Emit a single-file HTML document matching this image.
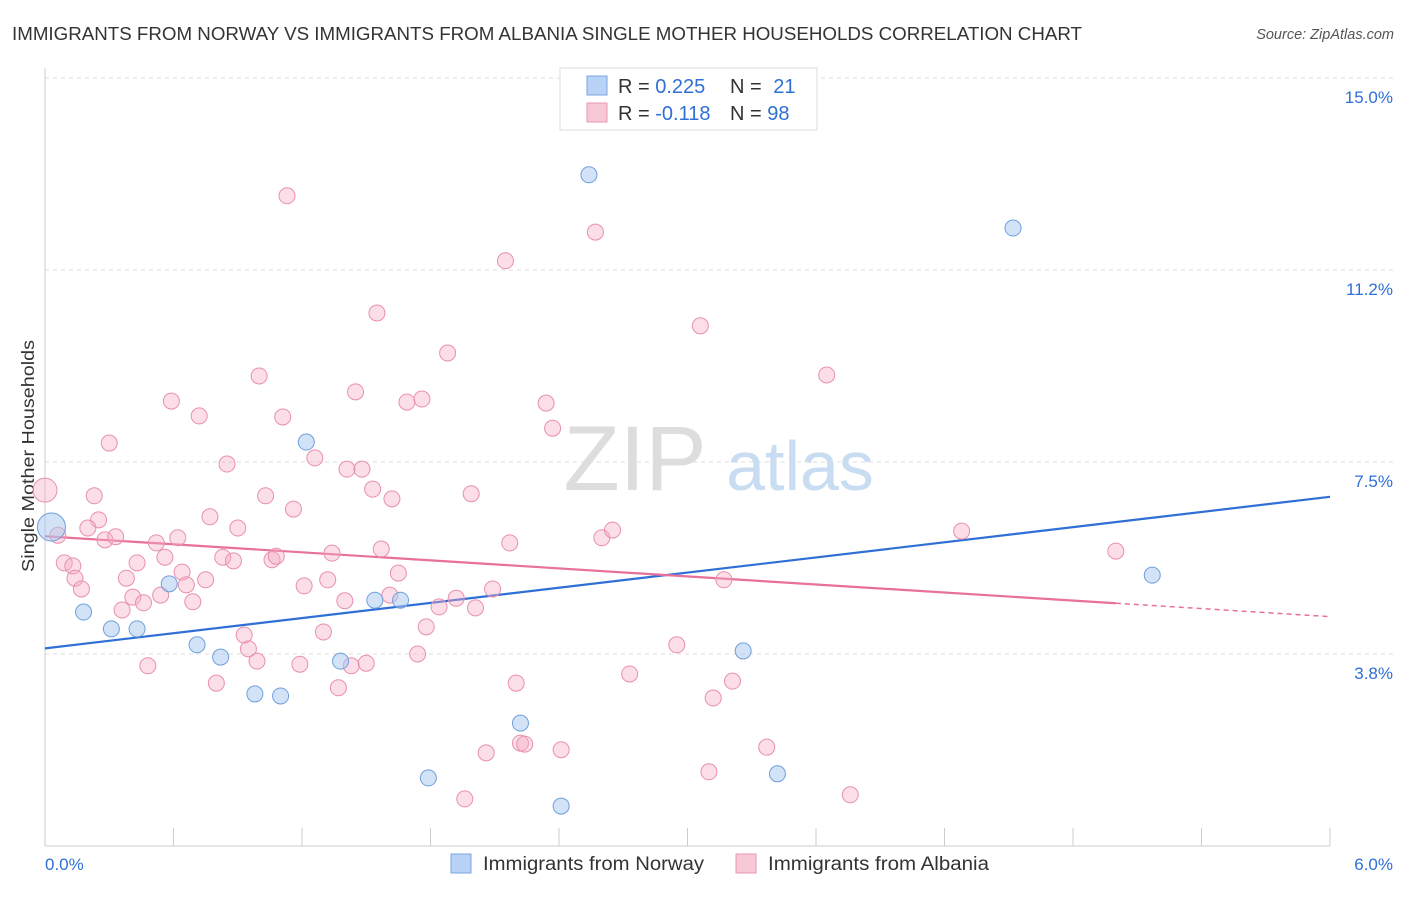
<!DOCTYPE html>
<html><head><meta charset="utf-8"><style>
body{margin:0;background:#fff;font-family:"Liberation Sans",sans-serif;}
svg text{font-family:"Liberation Sans",sans-serif;}
</style></head><body>
<svg id="chart" width="1406" height="892">
<text x="12" y="40" font-size="18" fill="#333" textLength="1070" lengthAdjust="spacingAndGlyphs">IMMIGRANTS FROM NORWAY VS IMMIGRANTS FROM ALBANIA SINGLE MOTHER HOUSEHOLDS CORRELATION CHART</text>
<text x="1394" y="39" font-size="14.5" fill="#555" font-style="italic" text-anchor="end">Source: ZipAtlas.com</text>
<text x="635" y="490" font-size="92" fill="#ddd" font-family="Liberation Serif" text-anchor="middle">ZIP</text>
<text x="800" y="490" font-size="70" fill="#c8dcf2" text-anchor="middle">atlas</text>
<g id="grid"></g>
<g id="axes"></g>
<text transform="translate(34,456) rotate(-90)" font-size="17.5" fill="#333" text-anchor="middle" textLength="232" lengthAdjust="spacingAndGlyphs">Single Mother Households</text>
<g id="lines"></g>
<g id="points"></g>
<g>
<rect x="560" y="68" width="257" height="62" fill="#fff" stroke="#ddd"/>
<rect x="587" y="76" width="20" height="19" fill="#b8d3f5" stroke="#7aa6e0"/>
<rect x="587" y="103" width="20" height="19" fill="#f9c8d6" stroke="#e898b2"/>
<text x="618" y="93" font-size="20" fill="#333">R = <tspan fill="#2f6fd6">0.225</tspan></text>
<text x="730" y="93" font-size="20" fill="#333">N = <tspan fill="#2f6fd6" dx="6">21</tspan></text>
<text x="618" y="120" font-size="20" fill="#333">R = <tspan fill="#2f6fd6">-0.118</tspan></text>
<text x="730" y="120" font-size="20" fill="#333">N = <tspan fill="#2f6fd6">98</tspan></text>
</g>
<g>
<rect x="451" y="854" width="20" height="19" fill="#b8d3f5" stroke="#7aa6e0"/>
<text x="483" y="870" font-size="19" fill="#333" textLength="221" lengthAdjust="spacingAndGlyphs">Immigrants from Norway</text>
<rect x="736" y="854" width="20" height="19" fill="#f9c8d6" stroke="#e898b2"/>
<text x="768" y="870" font-size="19" fill="#333" textLength="221" lengthAdjust="spacingAndGlyphs">Immigrants from Albania</text>
</g>
</svg>
<script>
const xTicks=[0,0.6,1.2,1.8,2.4,3.0,3.6,4.2,4.8,5.4,6.0];
const yTicks=[3.75,7.5,11.25,15];
const yTickLabels=["3.8%","7.5%","11.2%","15.0%"];
const norwayX=[0.03,0.18,0.31,0.43,0.58,0.71,0.82,0.98,1.10,1.22,1.38,1.54,1.66,1.79,2.22,2.41,2.54,3.26,3.42,4.52,5.17];
const norwayY=[6.23,4.57,4.24,4.24,5.12,3.93,3.69,2.97,2.93,7.89,3.61,4.80,4.80,1.33,2.40,0.78,13.11,3.81,1.41,12.07,5.29];
const albaniaX=[0.00,0.06,0.09,0.13,0.14,0.17,0.23,0.25,0.20,0.28,0.30,0.33,0.36,0.38,0.41,0.43,0.46,0.48,0.52,0.54,0.56,0.59,0.62,0.64,0.66,0.69,0.72,0.75,0.77,0.80,0.83,0.85,0.88,0.90,0.93,0.95,0.99,1.00,1.03,1.06,1.08,1.11,1.13,1.16,1.19,1.21,1.26,1.30,1.32,1.34,1.37,1.40,1.41,1.43,1.45,1.48,1.50,1.53,1.55,1.57,1.61,1.62,1.65,1.69,1.74,1.76,1.78,1.84,1.88,1.92,1.99,2.01,2.06,2.09,2.15,2.17,2.20,2.22,2.24,2.34,2.37,2.41,2.57,2.60,2.65,2.73,2.95,3.06,3.10,3.12,3.17,3.21,3.37,3.65,3.76,4.28,5.00,1.96];
const albaniaY=[6.95,6.07,5.53,5.47,5.23,5.02,6.84,6.37,6.21,5.98,7.87,6.04,4.61,5.23,4.86,5.53,4.75,3.52,5.92,4.90,5.64,8.69,6.02,5.35,5.10,4.77,8.40,5.20,6.43,3.18,5.64,7.46,5.57,6.21,4.12,3.85,3.61,9.18,6.84,5.59,5.66,8.38,12.70,6.58,3.55,5.08,7.58,4.18,5.20,5.72,3.09,4.79,7.36,3.52,8.87,7.36,3.57,6.97,10.41,5.80,4.90,6.78,5.33,8.67,3.75,8.73,4.28,4.67,9.63,4.84,6.88,4.65,1.82,5.02,11.43,5.92,3.18,2.01,1.99,8.65,8.16,1.88,11.99,6.02,6.17,3.36,3.93,10.16,1.45,2.89,5.20,3.22,1.93,9.20,1.00,6.15,5.76,0.92];
const norwayTrend=[3.86,6.82];
const albaniaTrend=[6.05,4.48];
const albaniaSolidEnd=5.0;

const X0=45,X1=1330,Y0=846,YTOP=78;
const sx=v=>X0+(X1-X0)*v/6;
const sy=v=>Y0-(Y0-YTOP)*v/15;
const NS='http://www.w3.org/2000/svg';
function mk(tag,attrs,parent){const e=document.createElementNS(NS,tag);for(const k in attrs)e.setAttribute(k,attrs[k]);parent.appendChild(e);return e;}
const grid=document.getElementById('grid'),axes=document.getElementById('axes');
yTicks.forEach((t,i)=>{
 const g=mk('line',{x1:X0,x2:1394,y1:sy(t),y2:sy(t),stroke:'#ddd','stroke-dasharray':'4,4'},grid);
 
 
 const tx=mk('text',{x:1393,y:sy(t)+25,'font-size':17,fill:'#2f6fd6','text-anchor':'end'},axes);
 tx.textContent=yTickLabels[i];
 
 
});
const ax=mk('line',{x1:X0,x2:X1,y1:Y0,y2:Y0,stroke:'#ccc'},axes);


const ay=mk('line',{x1:X0,x2:X0,y1:68,y2:Y0,stroke:'#ccc'},axes);


xTicks.forEach(t=>{
 const l=mk('line',{x1:sx(t),x2:sx(t),y1:828,y2:Y0,stroke:'#ccc'},axes);
 
 
});
const xl0=mk('text',{x:45,y:870,'font-size':17,fill:'#2f6fd6'},axes);xl0.textContent=xTicks[0].toFixed(1)+'%';


const xl1=mk('text',{x:1393,y:870,'font-size':17,fill:'#2f6fd6','text-anchor':'end'},axes);xl1.textContent=xTicks[xTicks.length-1].toFixed(1)+'%';



const pts=document.getElementById('points');
albaniaX.forEach((v,i)=>{
 const c=mk('circle',{cx:sx(v),cy:sy(albaniaY[i]),r:i===0?12:8,fill:'rgba(246,172,196,0.4)',stroke:'#e890ae','stroke-width':1},pts);
 
 
});
norwayX.forEach((v,i)=>{
 const c=mk('circle',{cx:sx(v),cy:sy(norwayY[i]),r:i===0?14:8,fill:'rgba(168,200,240,0.5)',stroke:'#6f9fdc','stroke-width':1},pts);
 
 
});
const lines=document.getElementById('lines');
const bl=mk('line',{x1:sx(0),y1:sy(norwayTrend[0]),x2:sx(6),y2:sy(norwayTrend[1]),stroke:'#2f6fd6','stroke-width':2.2},lines);


const pAt=x=>albaniaTrend[0]+(albaniaTrend[1]-albaniaTrend[0])*x/6;
const pl=mk('line',{x1:sx(0),y1:sy(pAt(0)),x2:sx(albaniaSolidEnd),y2:sy(pAt(albaniaSolidEnd)),stroke:'#e8709a','stroke-width':2.2},lines);


const pd=mk('line',{x1:sx(albaniaSolidEnd),y1:sy(pAt(albaniaSolidEnd)),x2:sx(6),y2:sy(pAt(6)),stroke:'#e8709a','stroke-width':1.5,'stroke-dasharray':'5,4'},lines);


</script>
</body></html>
